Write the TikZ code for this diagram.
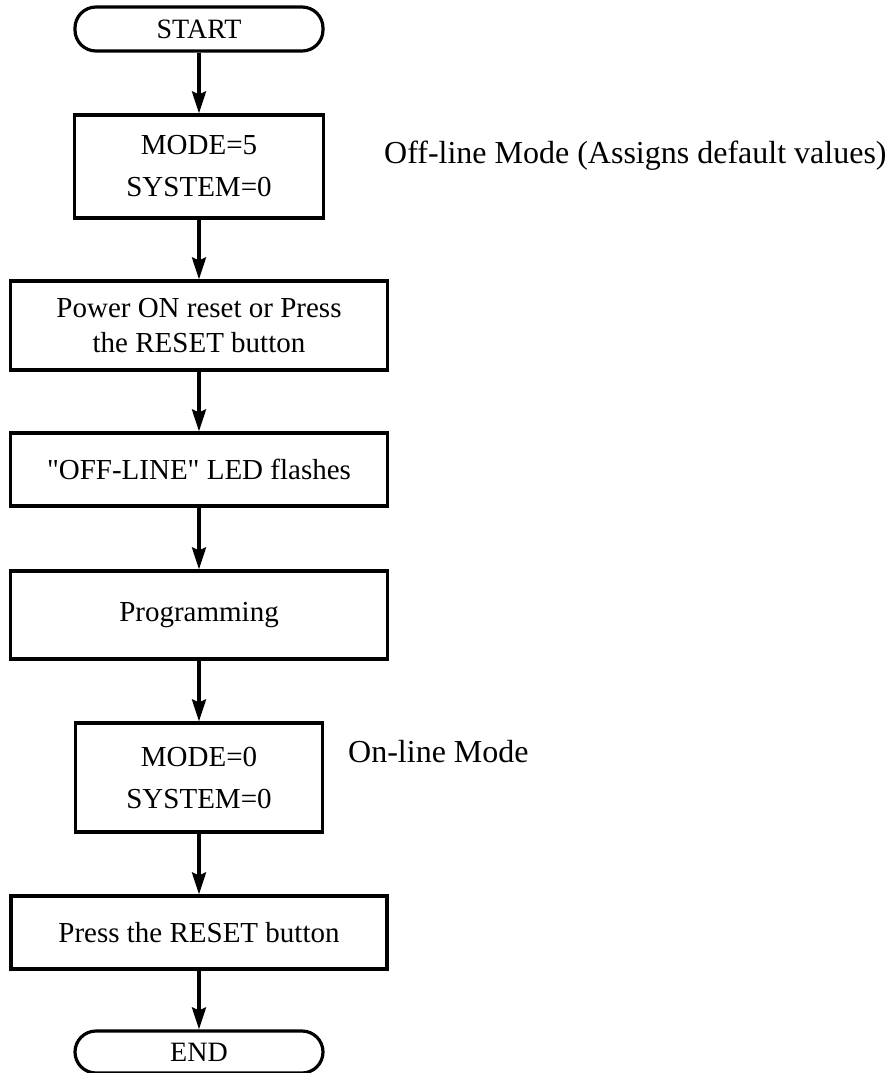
\documentclass[tikz,border=0pt]{standalone}
\usepackage{fontspec}
\setmainfont{Liberation Serif}
\newfontfamily\qfont{Liberation Serif}
\usetikzlibrary{arrows.meta}
\begin{document}
\begin{tikzpicture}[x=1pt,y=-1pt,
  box/.style={draw,line width=3.2pt,inner sep=0pt,align=center,font=\fontsize{29}{35}\selectfont},
  term/.style={box,rounded corners=21pt,font=\fontsize{28}{34}\selectfont},
  side/.style={anchor=west,inner sep=0pt,font=\fontsize{32}{38}\selectfont},
  arr/.style={line width=3.2pt,-{Stealth[length=22pt,width=14pt,inset=3pt]}}]
\useasboundingbox (0,0) rectangle (893,1073);
\node[term,minimum width=248pt,minimum height=44pt] (start) at (199,29) {START};
\node[box,minimum width=249pt,minimum height=103pt,font=\fontsize{29}{42}\selectfont] (b1) at (199,166.5) {MODE=5\\SYSTEM=0};
\node[box,minimum width=377pt,minimum height=89pt] (b2) at (199,325.5) {Power ON reset or Press\\the RESET button};
\node[box,minimum width=377pt,minimum height=73pt] (b3) at (199,469.5) {\qfont"OFF-LINE" LED flashes};
\node[box,minimum width=377pt,minimum height=88pt] (b4) at (199,615) {Programming};
\node[box,minimum width=247pt,minimum height=109pt,font=\fontsize{29}{42}\selectfont] (b5) at (199,777.5) {MODE=0\\SYSTEM=0};
\node[box,minimum width=376pt,minimum height=73pt] (b6) at (199,932.5) {Press the RESET button};
\node[term,minimum width=248pt,minimum height=42pt] (end) at (199,1052) {END};
\node[side] (l1) at (384,156) {Off-line Mode (Assigns default values)};
\node[side] (l2) at (348,752) {On-line Mode};
\draw[arr] (start) -- (b1);
\draw[arr] (b1) -- (b2);
\draw[arr] (b2) -- (b3);
\draw[arr] (b3) -- (b4);
\draw[arr] (b4) -- (b5);
\draw[arr] (b5) -- (b6);
\draw[arr] (b6) -- (end);
\end{tikzpicture}
\end{document}
